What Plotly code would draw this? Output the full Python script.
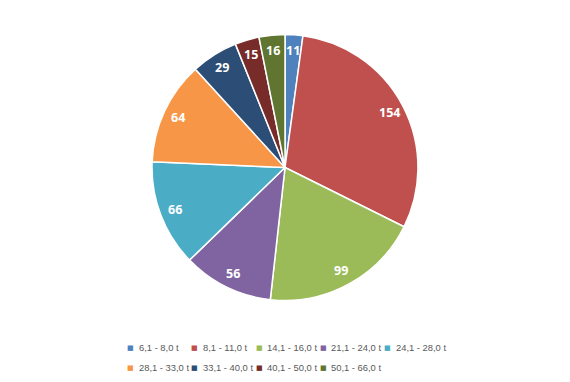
import math
import plotly.graph_objects as go

categories = ["6,1 - 8,0 t", "8,1 - 11,0 t", "14,1 - 16,0 t", "21,1 - 24,0 t", "24,1 - 28,0 t",
              "28,1 - 33,0 t", "33,1 - 40,0 t", "40,1 - 50,0 t", "50,1 - 66,0 t"]
values = [11, 154, 99, 56, 66, 64, 29, 15, 16]
colors = ["#4F81BD", "#C0504D", "#9BBB59", "#8064A2", "#4BACC6",
          "#F79646", "#2C4D75", "#772C2A", "#5F7530"]

W, H = 570, 382
dom = dict(x=[0.2667, 0.7333], y=[0.2133, 0.9097])

fig = go.Figure()
fig.add_trace(go.Pie(
    labels=categories, values=values, sort=False, direction="clockwise", rotation=0,
    marker=dict(colors=colors, line=dict(color="white", width=1.5)),
    textinfo="none", domain=dom, hoverinfo="label+value", showlegend=False,
))

# data labels: placed along each slice's mid-angle, derived from the values
cx = (dom["x"][0] + dom["x"][1]) / 2 * W
cy = (1 - (dom["y"][0] + dom["y"][1]) / 2) * H
r = min((dom["x"][1] - dom["x"][0]) * W, (dom["y"][1] - dom["y"][0]) * H) / 2
total = sum(values)
cum = 0
annotations = []
for v in values:
    a = (cum + v / 2) / total * 2 * math.pi
    cum += v
    f = 0.885
    px = cx + f * r * math.sin(a)
    py = cy - f * r * math.cos(a)
    annotations.append(dict(
        x=px / W, y=1 - py / H, xref="paper", yref="paper", showarrow=False,
        text="<b>%d</b>" % v, xanchor="center", yanchor="middle",
        font=dict(family="Open Sans", size=12.5, color="white"),
    ))

# legend (two rows, Excel-like compact layout)
leg_x0, leg_dx = 130.5, 64.3
leg_rows_y = [347.5, 367.5]
for i, (cat, col) in enumerate(zip(categories, colors)):
    row, c = divmod(i, 5)
    lx = leg_x0 + c * leg_dx
    ly = leg_rows_y[row]
    annotations.append(dict(
        x=lx / W, y=1 - ly / H, xref="paper", yref="paper", showarrow=False,
        text="■", xanchor="center", yanchor="middle",
        font=dict(family="DejaVu Sans", size=7, color=col),
    ))
    annotations.append(dict(
        x=(lx + 6) / W, y=1 - ly / H, xref="paper", yref="paper", showarrow=False,
        text=cat, xanchor="left", yanchor="middle",
        font=dict(family="Liberation Sans", size=9.4, color="#595959"),
    ))

fig.update_layout(
    width=W, height=H,
    margin=dict(l=0, r=0, t=0, b=0),
    paper_bgcolor="white", plot_bgcolor="white",
    showlegend=False,
    annotations=annotations,
)
fig.write_html("out.html", config={"displayModeBar": False},
               post_script="document.body.style.margin='0';")
